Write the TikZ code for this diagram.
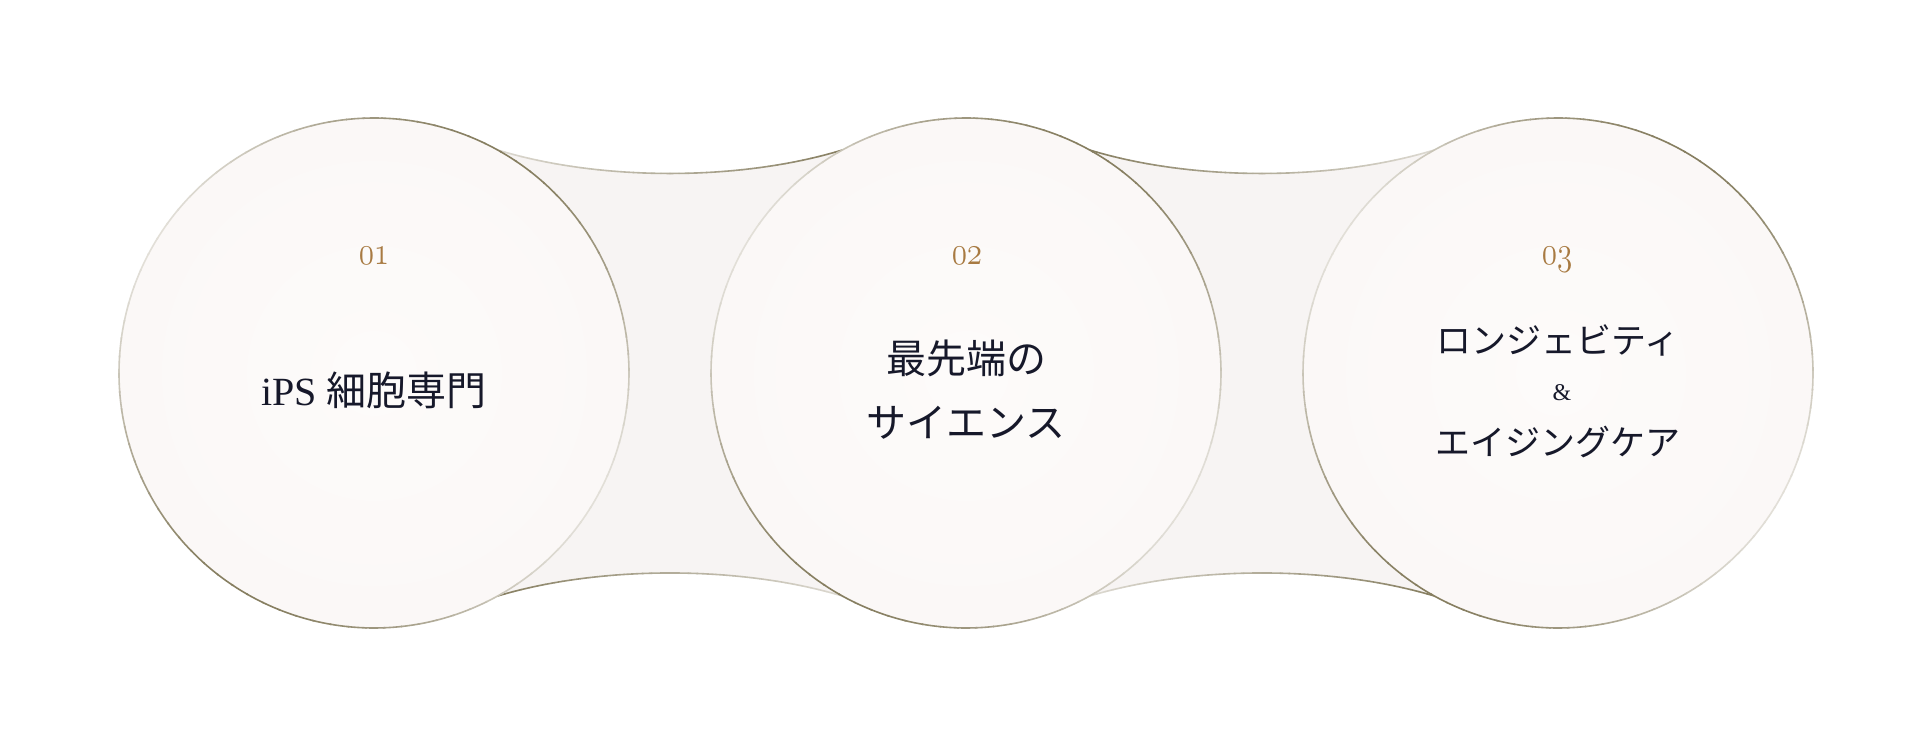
\documentclass[tikz,border=0pt]{standalone}
\usepackage{fontspec}
\usepackage{graphicx}
\setmainfont{Liberation Serif}
\newfontfamily\jpfont{Noto Sans CJK JP}
\usetikzlibrary{calc}
\definecolor{dk}{RGB}{134,126,96}
\definecolor{lt}{RGB}{226,223,216}
\definecolor{cfill}{RGB}{251,248,247}
\definecolor{cfillin}{RGB}{253,251,250}
\definecolor{bfill}{RGB}{247,244,243}
\definecolor{txt}{RGB}{22,24,42}
\definecolor{numc}{RGB}{168,122,66}
\newcommand\numtxt[1]{\scalebox{1.5}[1.93]{\usefont{OML}{cmm}{m}{it}\fontsize{20.74}{21}\selectfont #1}}
\newcommand\gradcurve[6]{%
  \path #1 .. controls #2 and #3 .. #4 \foreach \i in {0,...,40}{coordinate[pos=\i/40] (gq\i)};
  \foreach \i [evaluate=\i as \j using int(\i+1), evaluate=\i as \m using #5+(#6-#5)*(\i+0.5)/40] in {0,...,39}{
    \draw[line width=1.6pt, draw=dk!\m!lt, line cap=round] (gq\i) -- (gq\j);
  }%
}
\tikzset{
  unionpath/.style={insert path={
    (374,375) circle[radius=255pt] (966,375) circle[radius=255pt] (1558,375) circle[radius=255pt]
    (497.6,598) .. controls (600,566.7) and (740,566.7) .. (842.4,598) -- (842.4,152)
      .. controls (740,182.7) and (600,182.7) .. (497.6,152) -- cycle
    (1089.6,598) .. controls (1192,566.7) and (1332,566.7) .. (1434.4,598) -- (1434.4,152)
      .. controls (1332,182.7) and (1192,182.7) .. (1089.6,152) -- cycle}},
  disc/.style={circle, minimum size=510pt, inner sep=0pt, inner color=cfillin, outer color=cfill},
  jp/.style={text=txt, inner sep=0pt, anchor=base},
  num/.style={text=numc, inner sep=0pt, anchor=base},
}
\begin{document}
\begin{tikzpicture}[x=1pt,y=1pt]
\useasboundingbox (0,0) rectangle (1932,748);
\fill[white] (0,0) rectangle (1932,748);
% soft glow
\foreach \w in {10,20,...,130}{
  \path[draw=black, draw opacity=0.0018, line width=\w pt, yshift=-5pt, unionpath];
}
% bridges
\fill[bfill] (497.6,598) .. controls (600,566.7) and (740,566.7) .. (842.4,598) -- (842.4,152)
      .. controls (740,182.7) and (600,182.7) .. (497.6,152) -- cycle;
\fill[bfill] (1089.6,598) .. controls (1192,566.7) and (1332,566.7) .. (1434.4,598) -- (1434.4,152)
      .. controls (1332,182.7) and (1192,182.7) .. (1089.6,152) -- cycle;
\gradcurve{(497.6,598)}{(600,566.7)}{(740,566.7)}{(842.4,598)}{5}{100}
\gradcurve{(497.6,152)}{(600,182.7)}{(740,182.7)}{(842.4,152)}{100}{5}
\gradcurve{(1089.6,598)}{(1192,566.7)}{(1332,566.7)}{(1434.4,598)}{100}{5}
\gradcurve{(1089.6,152)}{(1192,182.7)}{(1332,182.7)}{(1434.4,152)}{5}{100}
% circles
\node[disc] (c1) at (374,375) {};
\node[disc] (c2) at (966,375) {};
\node[disc] (c3) at (1558,375) {};
\foreach \c in {374,966,1558}{
  \foreach \a in {0,4,...,356}{
    \pgfmathsetmacro\m{50+50*cos(2*(\a+2-60))}
    \draw[line width=1.6pt, draw=dk!\m!lt] (\c,375) ++(\a:255pt) arc[start angle=\a, end angle=\a+4.4, radius=255pt];
  }
}
% numbers
\node[num] (n1) at (374,483) {\numtxt{01}};
\node[num] (n2) at (967,483) {\numtxt{02}};
\node[num] (n3) at (1557,483) {\numtxt{03}};
% texts
\node[jp] (t1) at (374,343) {\fontsize{40}{48}\selectfont iPS {\jpfont 細胞専門}};
\node[jp] (t2a) at (966,374) {\jpfont\fontsize{40}{48}\selectfont 最先端の};
\node[jp] (t2b) at (966,311) {\jpfont\fontsize{40}{48}\selectfont サイエンス};
\node[jp] (t3a) at (1558,395) {\jpfont\fontsize{35}{42}\selectfont ロンジェビティ};
\node[jp] (t3b) at (1562,348) {\fontsize{24}{28}\selectfont \&};
\node[jp] (t3c) at (1558,293) {\jpfont\fontsize{35}{42}\selectfont エイジングケア};
\end{tikzpicture}
\end{document}
